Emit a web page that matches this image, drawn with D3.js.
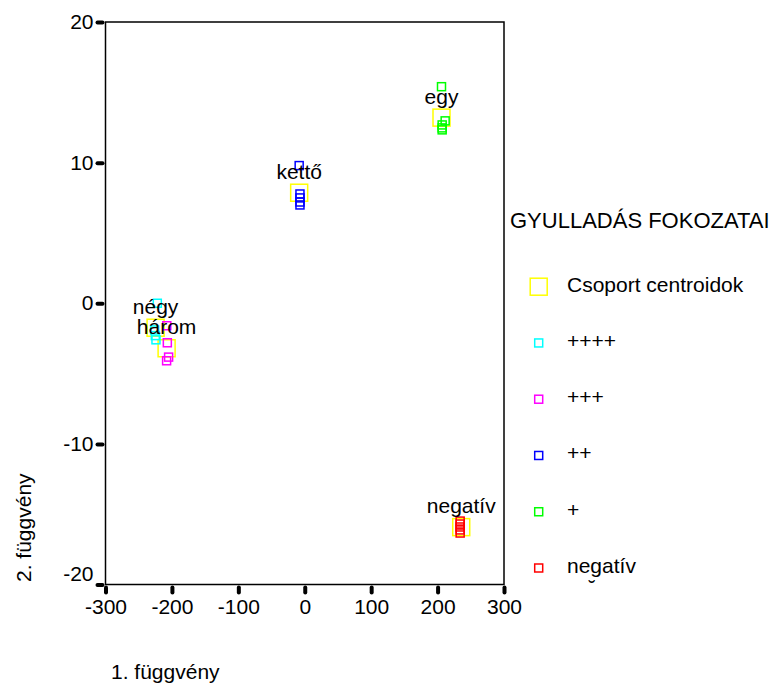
<!DOCTYPE html>
<html>
<head>
<meta charset="utf-8">
<script src="https://cdn.jsdelivr.net/npm/d3@7"></script>
<style>
  body { margin: 0; background: #fff; }
  text { font-family: "Liberation Sans", Arial, sans-serif; fill: #000; }
</style>
</head>
<body>
<div id="chart"></div>
<script>
// data
var xTicks = [-300, -200, -100, 0, 100, 200, 300];
var yTicks = [-20, -10, 0, 10, 20];

var groupNames = ["++++", "+++", "++", "+", "negatív"];
var centroidNames = ["négy", "három", "kettő", "egy", "negatív"];
var centroidX = [-224.6, -208, -8.4, 205.9, 235.6];
var centroidY = [-1.74, -3.2, 7.86, 13.2, -15.92];

// ++++
var negyX = [-222, -226, -224, -225];
var negyY = [0.0, -1.9, -2.6, -2.3];
// +++
var haromX = [-207.7, -206.9, -205, -208];
var haromY = [-1.6, -2.81, -3.83, -4.09];
// ++
var kettoX = [-8.4, -7.2, -7.2, -7.2, -7.2];
var kettoY = [9.79, 7.77, 7.49, 7.2, 6.99];
// +
var egyX = [205.9, 211.4, 206.9, 206.9, 206.9];
var egyY = [15.4, 12.97, 12.68, 12.47, 12.33];
// negatív
var negX = [234, 234, 234, 234, 234];
var negY = [-15.49, -15.7, -15.91, -16.12, -16.34];

var groupColors = ["#00ffff", "#ff00ff", "#0000ff", "#00ff00", "#ff0000"];
var centroidColor = "#ffff00";

// svg container
var svgWidth = 779;
var svgHeight = 684;
var svg = d3.select("#chart").append("svg")
  .attr("width", svgWidth)
  .attr("height", svgHeight);

var plot = { left: 105.5, right: 504, top: 22, bottom: 584.5 };

var xScale = d3.scaleLinear().domain([-300, 300]).range([plot.left, plot.right]);
var yScale = d3.scaleLinear().domain([-20, 20]).range([plot.bottom, plot.top]);

// frame
svg.append("rect")
  .attr("x", plot.left)
  .attr("y", plot.top)
  .attr("width", plot.right - plot.left)
  .attr("height", plot.bottom - plot.top)
  .attr("fill", "none")
  .attr("stroke", "#000")
  .attr("stroke-width", 1.5);

// axes (plain hyphen for negatives, like the original)
var xAxis = d3.axisBottom(xScale).tickValues(xTicks).tickFormat(d => String(d))
  .tickSizeInner(7).tickSizeOuter(0).tickPadding(8);
var yAxis = d3.axisLeft(yScale).tickValues(yTicks).tickFormat(d => String(d))
  .tickSizeInner(7).tickSizeOuter(0).tickPadding(5);

var gx = svg.append("g")
  .attr("transform", `translate(0, ${plot.bottom})`)
  .call(xAxis);
var gy = svg.append("g")
  .attr("transform", `translate(${plot.left}, 0)`)
  .call(yAxis);

[gx, gy].forEach(function(g) {
  g.select(".domain").remove();
  g.selectAll(".tick line")
    .attr("stroke", "#000")
    .attr("stroke-width", 4)
    .attr("stroke-linecap", "round");
  g.selectAll(".tick text")
    .attr("font-size", "21px")
    .attr("font-family", "Liberation Sans, Arial, sans-serif")
    .attr("fill", "#000");
});
gx.selectAll(".tick line").attr("y1", 3).attr("y2", 8);
gy.selectAll(".tick line").attr("x1", -3).attr("x2", -8);
// the -20 label sits a bit higher than its tick
gy.selectAll(".tick text").filter(d => d === -20).attr("dy", "-0.2em");

// centroids
svg.append("g").selectAll("rect")
  .data(centroidNames)
  .enter()
  .append("rect")
  .attr("x", (d, i) => xScale(centroidX[i]) - 8.5)
  .attr("y", (d, i) => yScale(centroidY[i]) - 8.5)
  .attr("width", 17)
  .attr("height", 17)
  .attr("fill", "none")
  .attr("stroke", centroidColor)
  .attr("stroke-width", 1.5);

// cases
var groupsX = [negyX, haromX, kettoX, egyX, negX];
var groupsY = [negyY, haromY, kettoY, egyY, negY];
groupNames.forEach(function(name, gi) {
  svg.append("g").selectAll("rect")
    .data(groupsX[gi])
    .enter()
    .append("rect")
    .attr("x", d => xScale(d) - 4)
    .attr("y", (d, i) => yScale(groupsY[gi][i]) - 4)
    .attr("width", 8)
    .attr("height", 8)
    .attr("fill", "none")
    .attr("stroke", groupColors[gi])
    .attr("stroke-width", 1.5);
});

// centroid labels
svg.append("g").selectAll("text")
  .data(centroidNames)
  .enter()
  .append("text")
  .attr("x", (d, i) => xScale(centroidX[i]))
  .attr("y", (d, i) => yScale(centroidY[i]) - 14)
  .attr("text-anchor", "middle")
  .attr("font-size", "21px")
  .text(d => d);

// axis titles
svg.append("text")
  .attr("transform", "translate(31, 582) rotate(-90)")
  .attr("font-size", "21px")
  .text("2. függvény");

svg.append("text")
  .attr("x", 111)
  .attr("y", 679)
  .attr("font-size", "21px")
  .text("1. függvény");

// legend
var legend = svg.append("g");
legend.append("text")
  .attr("x", 510)
  .attr("y", 228)
  .attr("font-size", "22px")
  .text("GYULLADÁS FOKOZATAI");

var legendLabels = ["Csoport centroidok"].concat(groupNames);
var legendColors = [centroidColor].concat(groupColors);
var legendY = d3.scalePoint().domain(d3.range(legendLabels.length)).range([286.7, 568]);

var items = legend.selectAll(".item")
  .data(legendLabels)
  .enter()
  .append("g")
  .attr("class", "item")
  .attr("transform", (d, i) => `translate(538.7, ${legendY(i)})`);

items.append("rect")
  .attr("x", (d, i) => i === 0 ? -8.5 : -4)
  .attr("y", (d, i) => i === 0 ? -8.5 : -4)
  .attr("width", (d, i) => i === 0 ? 17 : 8)
  .attr("height", (d, i) => i === 0 ? 17 : 8)
  .attr("fill", "none")
  .attr("stroke", (d, i) => legendColors[i])
  .attr("stroke-width", 1.5);

items.append("text")
  .attr("x", 28.3)
  .attr("y", 5)
  .attr("font-size", "21px")
  .text(d => d);

// stray mark under the last legend label
legend.append("text")
  .attr("x", 592)
  .attr("y", 595)
  .attr("text-anchor", "middle")
  .attr("font-size", "20px")
  .text("˘");
</script>
</body>
</html>
